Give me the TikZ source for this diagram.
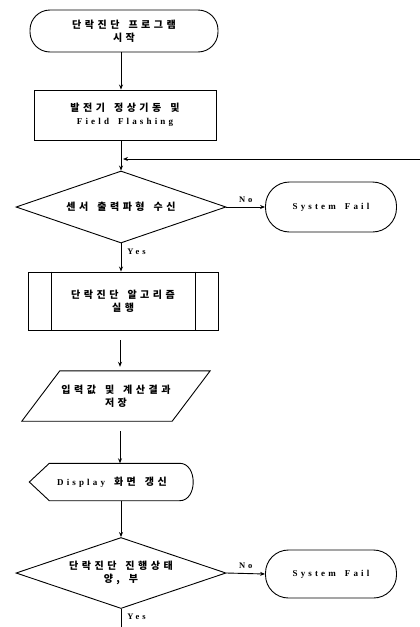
\documentclass[tikz,border=0pt]{standalone}
\usepackage{fontspec}
\setmainfont{Liberation Serif}
\newfontfamily\krfont{Noto Sans CJK KR}[BoldFont={Noto Sans CJK KR Black},LetterSpace=35]
\newfontfamily\enfont{Liberation Serif}[LetterSpace=35]
\newcommand{\KR}[1]{{\fontsize{10}{13}\krfont\bfseries #1}}
\newcommand{\EN}[1]{{\enfont\bfseries #1}}
\newcommand{\wsp}{\hspace{9pt}}
\usetikzlibrary{shapes.geometric,arrows.meta}
\begin{document}
\begin{tikzpicture}[x=1pt,y=-1pt,
  every node/.style={font=\fontsize{9}{13}\selectfont, align=center, inner sep=0pt},
  line/.style={line width=0.9pt},
  arr/.style={line, -{Stealth[length=5pt,width=4pt]}},
  terminal/.style={draw, line width=0.9pt, rounded corners=#1, minimum width=131pt},
  box/.style={draw, line width=0.9pt, rectangle},
  decision/.style={draw, line width=0.9pt, diamond, shape aspect=2.9, minimum width=210pt, minimum height=72pt},
  lbl/.style={font=\fontsize{8.5}{10}\selectfont}
]
\useasboundingbox (0,0) rectangle (420,627);

% start
\node[terminal=20pt, minimum width=188pt, minimum height=42pt] (start) at (124,31)
  {\KR{단락진단\wsp 프로그램}\\\KR{시작}};
% init box
\node[box, minimum width=182pt, minimum height=50pt] (init) at (125,115)
  {\KR{발전기\wsp 정상기동\wsp 및}\\\EN{Field\wsp Flashing}};
% decision 1
\node[decision] (d1) at (121,207) {\KR{센서\wsp 출력파형\wsp 수신}};
\node[terminal=24pt, minimum height=50pt] (f1) at (331,207) {\EN{System\wsp Fail}};
% subprocess
\node[box, minimum width=190pt, minimum height=58pt] (sub) at (123,301)
  {\KR{단락진단\wsp 알고리즘}\\\KR{실행}};
\draw[line] ([xshift=24pt]sub.north west) -- ([xshift=24pt]sub.south west);
\draw[line] ([xshift=-23pt]sub.north east) -- ([xshift=-23pt]sub.south east);
% parallelogram (data)
\node[minimum width=150pt, minimum height=50pt] (p) at (116,396)
  {\KR{입력값\wsp 및\wsp 계산결과}\\\KR{저장}};
\draw[line] ([xshift=19pt]p.north west) -- ([xshift=19pt]p.north east)
  -- ([xshift=-19pt]p.south east) -- ([xshift=-19pt]p.south west) -- cycle;
% display
\node[minimum width=165pt, minimum height=37pt] (disp) at (112,482)
  {\EN{Display}\wsp\KR{화면\wsp 갱신}};
\draw[line] (disp.west) -- ([xshift=20pt]disp.north west) -- ([xshift=-15pt]disp.north east)
  .. controls ([xshift=3pt]disp.north east) and ([xshift=3pt]disp.south east) ..
  ([xshift=-15pt]disp.south east) -- ([xshift=20pt]disp.south west) -- cycle;
% decision 2
\node[decision, minimum height=71pt] (d2) at (121,573) {\KR{단락진단\wsp 진행상태}\\\KR{양,\wsp 부}};
\node[terminal=23pt, minimum height=48pt] (f2) at (331,574) {\EN{System\wsp Fail}};

\coordinate (fbR) at (420,159);
\coordinate (fbL) at (123,159);
\coordinate (bot) at (121,627);

% connectors
\draw[arr] (start.south -| 121,0) -- (init.north -| 121,0);
\draw[arr] (init.south -| d1.north) -- (d1.north);
\draw[arr] (fbR) -- (fbL);
\draw[arr] (d1.east) -- node[lbl, above=4pt] {\EN{No}} (f1.west);
\draw[arr] (d1.south) -- node[lbl, right=6pt, pos=0.3] {\EN{Yes}} (sub.north -| d1.south);
\draw[arr, shorten <=10pt, shorten >=4pt] (sub.south -| 120,0) -- (p.north -| 120,0);
\draw[arr, shorten <=10pt] (p.south -| 120,0) -- (disp.north -| 120,0);
\draw[arr] (disp.south -| d2.north) -- (d2.north);
\draw[arr] (d2.east) -- node[lbl, above=4pt] {\EN{No}} (f2.west);
\draw[line] (d2.south) -- node[lbl, right=6pt, pos=0.45] {\EN{Yes}} (bot);
\end{tikzpicture}
\end{document}
